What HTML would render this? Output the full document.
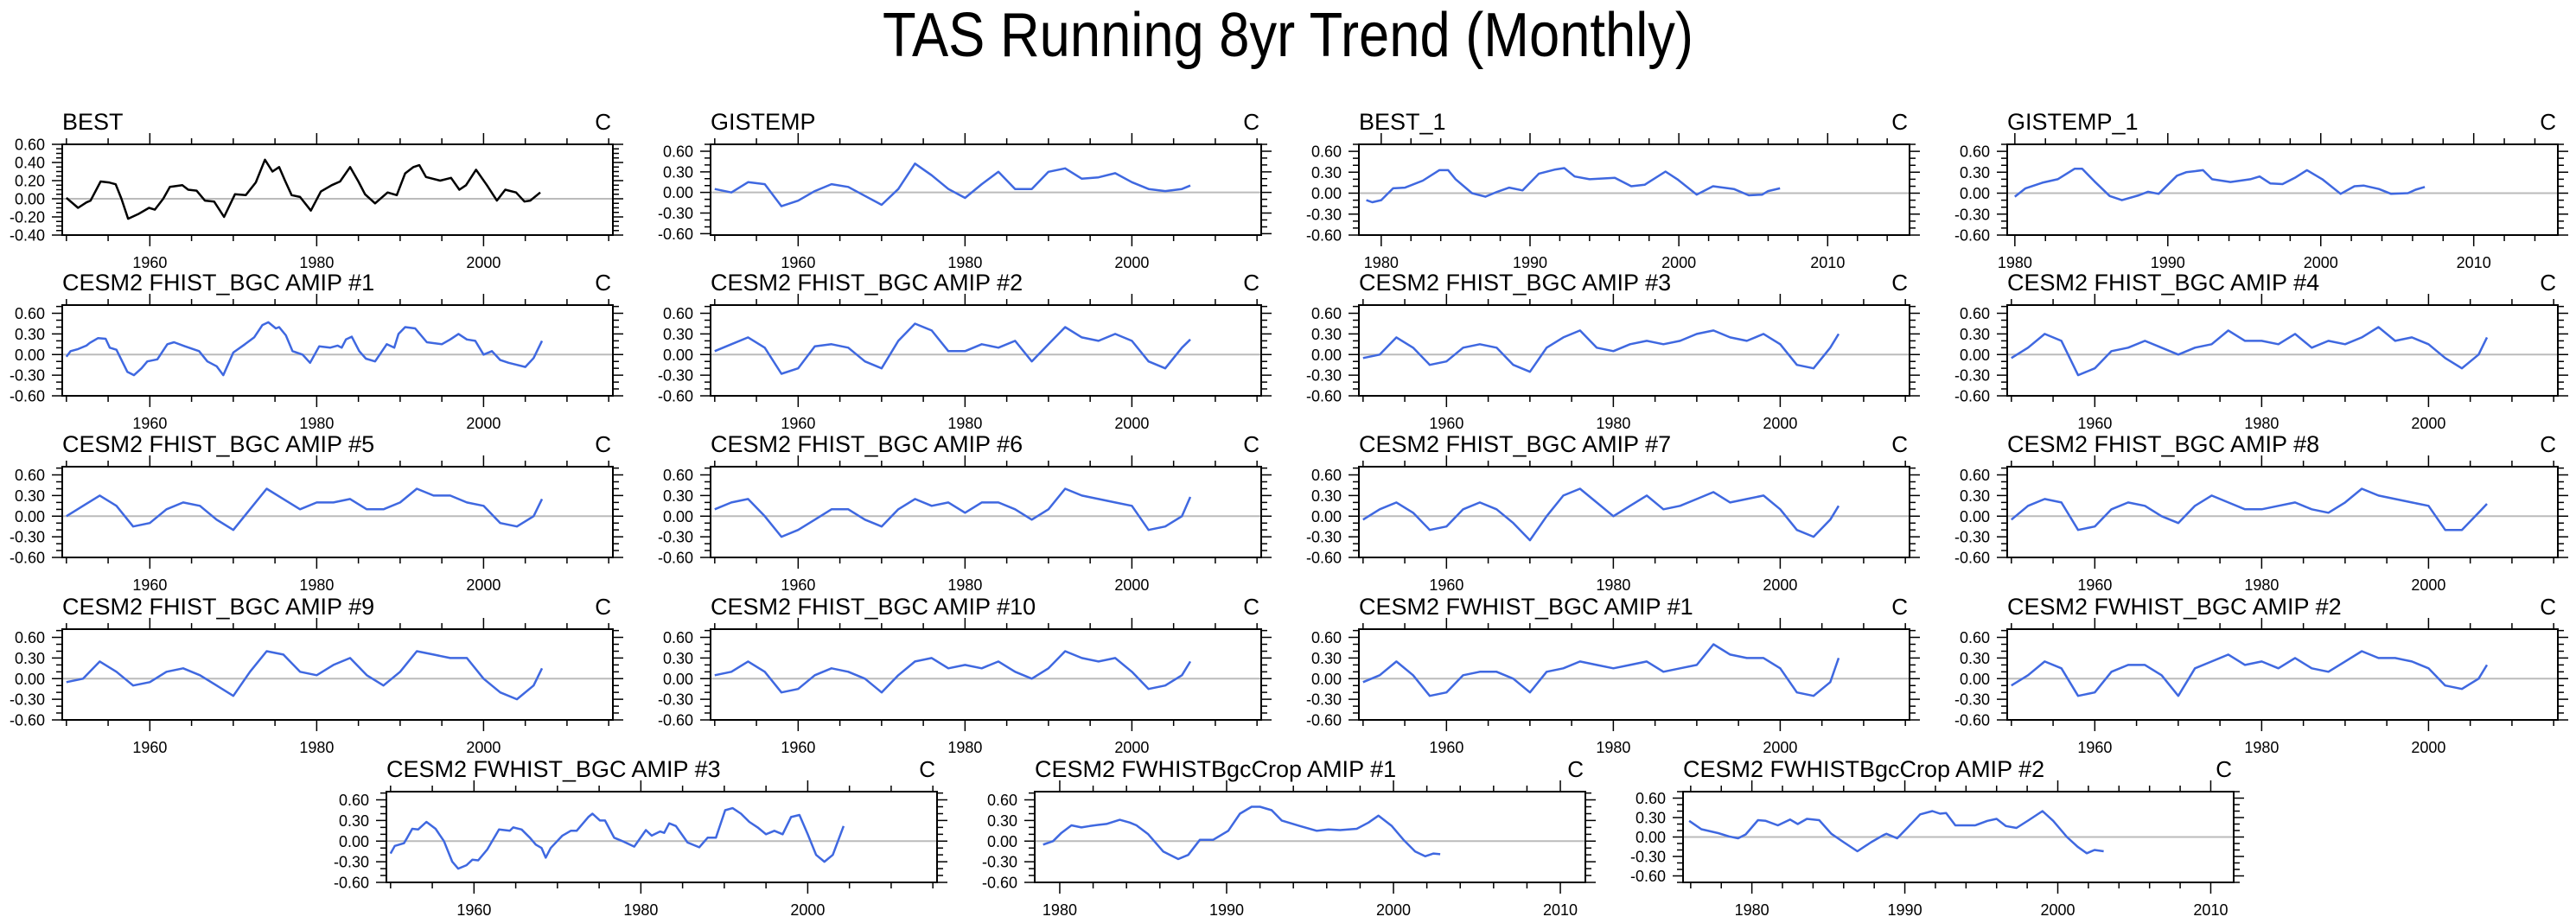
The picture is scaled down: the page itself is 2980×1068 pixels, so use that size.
<!DOCTYPE html>
<html><head><meta charset="utf-8"><style>
html,body{margin:0;padding:0;background:#fff;}
svg{display:block;font-family:"Liberation Sans",sans-serif;}
</style></head><body>
<svg id="fig" width="2980" height="1068" viewBox="0 0 2980 1068">
<text x="1490" y="65" text-anchor="middle" font-size="72" textLength="938" lengthAdjust="spacingAndGlyphs">TAS Running 8yr Trend (Monthly)</text>
</svg>
<script>
const Y2 = [1950,1952,1954,1956,1958,1960,1962,1964,1966,1968,1970,1972,1974,1976,1978,1980,1982,1984,1986,1988,1990,1992,1994,1996,1998,2000,2002,2004,2006,2007];
const bestYears = [1950,1951.4,1952.4,1952.9,1954.1,1955.1,1955.9,1956.6,1957.4,1958.6,1959.9,1960.6,1961.6,1962.4,1963.9,1964.6,1965.6,1966.6,1967.7,1968.9,1970.2,1971.5,1972.7,1973.8,1974.7,1975.5,1976.2,1977,1978,1979.3,1980.5,1981.8,1982.8,1984,1985,1985.8,1987,1988.5,1989.6,1990.6,1991.6,1992.3,1993.1,1994.8,1996.1,1997.1,1997.9,1999.1,2000.4,2001.6,2002.6,2003.9,2004.9,2005.6,2006.8];
const bestVals = [0.01,-0.1,-0.04,-0.02,0.19,0.18,0.16,0.0,-0.22,-0.17,-0.1,-0.12,0.0,0.13,0.15,0.1,0.09,-0.02,-0.03,-0.2,0.05,0.04,0.18,0.43,0.3,0.35,0.2,0.04,0.02,-0.13,0.08,0.15,0.19,0.35,0.19,0.05,-0.05,0.07,0.04,0.28,0.35,0.37,0.24,0.2,0.23,0.1,0.15,0.32,0.15,-0.02,0.1,0.07,-0.03,-0.02,0.07];
const gisVals = [0.05,0.0,0.15,0.12,-0.2,-0.12,0.02,0.12,0.08,-0.05,-0.18,0.05,0.42,0.25,0.05,-0.08,0.12,0.3,0.05,0.05,0.3,0.35,0.2,0.22,0.28,0.15,0.05,0.02,0.05,0.1];
const best1Years = [1979,1979.4,1980,1980.8,1981.6,1982.8,1983.9,1984.5,1985,1986.1,1987,1987.8,1988.6,1989.5,1990.6,1991.7,1992.3,1993,1994,1995.7,1996.8,1997.7,1999.1,1999.9,2001.2,2002.3,2003.7,2004.7,2005.6,2006,2006.8];
const best1Vals = [-0.1,-0.13,-0.1,0.07,0.08,0.18,0.33,0.33,0.2,0.0,-0.05,0.02,0.08,0.04,0.28,0.34,0.36,0.24,0.2,0.22,0.1,0.12,0.31,0.2,-0.02,0.1,0.06,-0.03,-0.02,0.03,0.07];
const gis1Years = [1980,1980.7,1981.8,1982.8,1983.9,1984.4,1985.2,1986.2,1987,1988.1,1988.7,1989.4,1990.6,1991.2,1992.3,1992.9,1994.1,1995.4,1996,1996.7,1997.5,1998.3,1999.1,2000.1,2001.3,2002.2,2002.8,2003.8,2004.6,2005.7,2006.2,2006.8];
const gis1Vals = [-0.05,0.07,0.15,0.2,0.35,0.35,0.17,-0.04,-0.1,-0.03,0.02,-0.01,0.25,0.3,0.33,0.2,0.16,0.2,0.24,0.14,0.13,0.22,0.33,0.2,-0.01,0.1,0.11,0.06,-0.01,0.0,0.05,0.09];
const f1Years = [1950,1950.5,1951.4,1952.4,1952.8,1953.8,1954.7,1955.2,1956,1957.3,1958.1,1959,1959.7,1960.9,1962.1,1962.9,1964.2,1965.9,1966.9,1968,1968.8,1970,1971.4,1972.5,1973.5,1974.2,1975.1,1975.5,1976.3,1977.1,1978.3,1979.2,1980.3,1981.6,1982.5,1983,1983.5,1984.2,1985.1,1985.9,1987,1988.4,1989.3,1989.8,1990.6,1991.8,1993.2,1995,1996,1997,1998,1999,2000,2001,2002,2003,2004,2005,2006,2007];
const f1Vals = [-0.03,0.05,0.08,0.13,0.17,0.24,0.23,0.1,0.07,-0.25,-0.3,-0.2,-0.1,-0.07,0.15,0.18,0.12,0.05,-0.1,-0.17,-0.3,0.03,0.15,0.25,0.43,0.47,0.38,0.4,0.28,0.05,0.0,-0.12,0.12,0.1,0.13,0.1,0.22,0.26,0.05,-0.06,-0.1,0.15,0.1,0.3,0.4,0.38,0.18,0.15,0.22,0.3,0.22,0.2,0.0,0.05,-0.08,-0.12,-0.15,-0.18,-0.05,0.2];
const f2Vals = [0.05,0.15,0.25,0.1,-0.28,-0.2,0.12,0.15,0.1,-0.1,-0.2,0.2,0.45,0.35,0.05,0.05,0.15,0.1,0.2,-0.1,0.15,0.4,0.25,0.2,0.3,0.2,-0.1,-0.2,0.1,0.22];
const f3Vals = [-0.05,0.0,0.25,0.1,-0.15,-0.1,0.1,0.15,0.1,-0.15,-0.25,0.1,0.25,0.35,0.1,0.05,0.15,0.2,0.15,0.2,0.3,0.35,0.25,0.2,0.3,0.15,-0.15,-0.2,0.1,0.3];
const f4Vals = [-0.05,0.1,0.3,0.2,-0.3,-0.2,0.05,0.1,0.2,0.1,0.0,0.1,0.15,0.35,0.2,0.2,0.15,0.3,0.1,0.2,0.15,0.25,0.4,0.2,0.25,0.15,-0.05,-0.2,0.0,0.25];
const f5Vals = [0.0,0.15,0.3,0.15,-0.15,-0.1,0.1,0.2,0.15,-0.05,-0.2,0.1,0.4,0.25,0.1,0.2,0.2,0.25,0.1,0.1,0.2,0.4,0.3,0.3,0.2,0.15,-0.1,-0.15,0.0,0.25];
const f6Vals = [0.1,0.2,0.25,0.0,-0.3,-0.2,-0.05,0.1,0.1,-0.05,-0.15,0.1,0.25,0.15,0.2,0.05,0.2,0.2,0.1,-0.05,0.1,0.4,0.3,0.25,0.2,0.15,-0.2,-0.15,0.0,0.28];
const f7Vals = [-0.05,0.1,0.2,0.05,-0.2,-0.15,0.1,0.2,0.1,-0.1,-0.35,0.0,0.3,0.4,0.2,0.0,0.15,0.3,0.1,0.15,0.25,0.35,0.2,0.25,0.3,0.1,-0.2,-0.3,-0.05,0.15];
const f8Vals = [-0.05,0.15,0.25,0.2,-0.2,-0.15,0.1,0.2,0.15,0.0,-0.1,0.15,0.3,0.2,0.1,0.1,0.15,0.2,0.1,0.05,0.2,0.4,0.3,0.25,0.2,0.15,-0.2,-0.2,0.05,0.18];
const f9Vals = [-0.05,0.0,0.25,0.1,-0.1,-0.05,0.1,0.15,0.05,-0.1,-0.25,0.1,0.4,0.35,0.1,0.05,0.2,0.3,0.05,-0.1,0.1,0.4,0.35,0.3,0.3,0.0,-0.2,-0.3,-0.1,0.15];
const f10Vals = [0.05,0.1,0.25,0.1,-0.2,-0.15,0.05,0.15,0.1,0.0,-0.2,0.05,0.25,0.3,0.15,0.2,0.15,0.25,0.1,0.0,0.15,0.4,0.3,0.25,0.3,0.1,-0.15,-0.1,0.05,0.25];
const w1Vals = [-0.05,0.05,0.25,0.05,-0.25,-0.2,0.05,0.1,0.1,0.0,-0.2,0.1,0.15,0.25,0.2,0.15,0.2,0.25,0.1,0.15,0.2,0.5,0.35,0.3,0.3,0.15,-0.2,-0.25,-0.05,0.3];
const w2Vals = [-0.1,0.05,0.25,0.15,-0.25,-0.2,0.1,0.2,0.2,0.05,-0.25,0.15,0.25,0.35,0.2,0.25,0.15,0.3,0.15,0.1,0.25,0.4,0.3,0.3,0.25,0.15,-0.1,-0.15,0.0,0.2];
const w3Years = [1950,1950.5,1951.6,1952,1952.6,1953.3,1954.3,1955.4,1956.4,1957.4,1958.1,1959.1,1959.8,1960.5,1961.6,1963,1964.3,1964.7,1965.7,1966.7,1967.4,1968.1,1968.6,1969.2,1970.6,1971.6,1972.3,1973.7,1974.2,1975.1,1975.7,1976.8,1977.8,1979.2,1980.6,1981.3,1982.3,1982.8,1983.4,1984.2,1985.6,1987,1988,1989,1990.1,1991,1992,1993,1994,1995,1996,1997,1998,1999,2000,2001,2002,2003,2004.3];
const w3Vals = [-0.18,-0.07,-0.03,0.05,0.18,0.17,0.28,0.18,0.0,-0.3,-0.4,-0.35,-0.27,-0.28,-0.12,0.17,0.15,0.2,0.17,0.05,-0.05,-0.1,-0.24,-0.1,0.08,0.15,0.15,0.35,0.4,0.3,0.3,0.05,0.0,-0.08,0.16,0.08,0.14,0.12,0.26,0.22,-0.02,-0.09,0.05,0.05,0.45,0.48,0.4,0.28,0.2,0.1,0.15,0.1,0.35,0.38,0.1,-0.2,-0.3,-0.2,0.22];
const c1Years = [1979,1979.6,1980.1,1980.7,1981.3,1981.8,1982.4,1982.8,1983.6,1984.2,1984.6,1985.3,1986.2,1987.1,1987.7,1988.4,1989.2,1990.1,1990.8,1991.5,1992,1992.7,1993.3,1994.4,1995.4,1996.1,1996.8,1997.8,1998.5,1999.1,1999.9,2000.6,2001.3,2001.9,2002.4,2002.8];
const c1Vals = [-0.05,0.0,0.12,0.23,0.2,0.22,0.24,0.25,0.31,0.27,0.23,0.1,-0.15,-0.26,-0.2,0.02,0.02,0.15,0.4,0.5,0.5,0.45,0.3,0.22,0.15,0.17,0.16,0.18,0.27,0.37,0.22,0.02,-0.15,-0.22,-0.18,-0.19];
const c2Years = [1975.9,1976.7,1977.8,1978.5,1979.1,1979.6,1980.4,1980.9,1981.7,1982.5,1983,1983.6,1984.4,1985.2,1986,1986.9,1987.8,1988.6,1988.8,1989.5,1990.2,1991,1991.8,1992.3,1992.7,1993.3,1994.6,1995.4,1996,1996.6,1997.3,1998.1,1999,1999.7,2000.6,2001.3,2001.9,2002.4,2003];
const c2Vals = [0.25,0.12,0.06,0.01,-0.02,0.04,0.26,0.25,0.18,0.27,0.2,0.28,0.26,0.05,-0.08,-0.22,-0.08,0.03,0.05,-0.02,0.15,0.35,0.4,0.36,0.37,0.18,0.18,0.25,0.28,0.17,0.14,0.26,0.4,0.25,0.0,-0.15,-0.25,-0.2,-0.22];

const LONG = [1949.5, 2015.5], S1 = [1978.5, 2015.5], S2 = [1979.5, 2015.5], S3 = [1978.5, 2011.5], S4 = [1975.5, 2011.5];
const panels = [
 {t:'BEST', x:72, y:167, xr:LONG, yr:[-0.4,0.6], step:0.2, minor:0.05, xs:bestYears, v:bestVals, c:'#000'},
 {t:'GISTEMP', x:822, y:167, xr:LONG, yr:[-0.62,0.7], step:0.3, minor:0.1, xs:Y2, v:gisVals},
 {t:'BEST_1', x:1572, y:167, xr:S1, yr:[-0.6,0.7], step:0.3, minor:0.1, xs:best1Years, v:best1Vals},
 {t:'GISTEMP_1', x:2322, y:167, xr:S2, yr:[-0.6,0.7], step:0.3, minor:0.1, xs:gis1Years, v:gis1Vals},
 {t:'CESM2 FHIST_BGC AMIP #1', x:72, y:353, xr:LONG, xs:f1Years, v:f1Vals},
 {t:'CESM2 FHIST_BGC AMIP #2', x:822, y:353, xr:LONG, xs:Y2, v:f2Vals},
 {t:'CESM2 FHIST_BGC AMIP #3', x:1572, y:353, xr:LONG, xs:Y2, v:f3Vals},
 {t:'CESM2 FHIST_BGC AMIP #4', x:2322, y:353, xr:LONG, xs:Y2, v:f4Vals},
 {t:'CESM2 FHIST_BGC AMIP #5', x:72, y:540, xr:LONG, xs:Y2, v:f5Vals},
 {t:'CESM2 FHIST_BGC AMIP #6', x:822, y:540, xr:LONG, xs:Y2, v:f6Vals},
 {t:'CESM2 FHIST_BGC AMIP #7', x:1572, y:540, xr:LONG, xs:Y2, v:f7Vals},
 {t:'CESM2 FHIST_BGC AMIP #8', x:2322, y:540, xr:LONG, xs:Y2, v:f8Vals},
 {t:'CESM2 FHIST_BGC AMIP #9', x:72, y:728, xr:LONG, xs:Y2, v:f9Vals},
 {t:'CESM2 FHIST_BGC AMIP #10', x:822, y:728, xr:LONG, xs:Y2, v:f10Vals},
 {t:'CESM2 FWHIST_BGC AMIP #1', x:1572, y:728, xr:LONG, xs:Y2, v:w1Vals},
 {t:'CESM2 FWHIST_BGC AMIP #2', x:2322, y:728, xr:LONG, xs:Y2, v:w2Vals},
 {t:'CESM2 FWHIST_BGC AMIP #3', x:447, y:916, xr:LONG, xs:w3Years, v:w3Vals},
 {t:'CESM2 FWHISTBgcCrop AMIP #1', x:1197, y:916, xr:S3, xs:c1Years, v:c1Vals},
 {t:'CESM2 FWHISTBgcCrop AMIP #2', x:1947, y:916, xr:S4, yr:[-0.7,0.7], xs:c2Years, v:c2Vals}
];
const W = 637, H = 105, NS = 'http://www.w3.org/2000/svg';
const svg = document.getElementById('fig');
function mk(tag, attrs, parent){ const e = document.createElementNS(NS, tag); for (const k in attrs) e.setAttribute(k, attrs[k]); parent.appendChild(e); return e; }
panels.forEach((p, i) => {
  const yr = p.yr || [-0.6, 0.72], step = p.step || 0.3, minor = p.minor || 0.1;
  const g = mk('g', {}, svg);
  
  
  const sx = v => p.x + (v - p.xr[0]) / (p.xr[1] - p.xr[0]) * W;
  const sy = v => p.y + H - (v - yr[0]) / (yr[1] - yr[0]) * H;
  const t = mk('text', {x:p.x, y:p.y - 17, 'font-size':27}, g); t.textContent = p.t;
  
  
  const c = mk('text', {x:p.x + W - 2, y:p.y - 17, 'font-size':26, 'text-anchor':'end'}, g); c.textContent = 'C';
  
  
  const z = mk('line', {x1:p.x, x2:p.x + W, y1:sy(0), y2:sy(0), stroke:'#bbb', 'stroke-width':2}, g);
  
  
  const span = p.xr[1] - p.xr[0];
  const maj = span > 50 ? 20 : 10, mn = span > 50 ? 5 : 2;
  let tk = '';
  for (let yv = Math.ceil(p.xr[0] / mn) * mn; yv <= p.xr[1]; yv += mn) {
    const X = sx(yv), L = (yv % maj === 0) ? 13 : 7;
    tk += `M${X} ${p.y}v${-L}M${X} ${p.y + H}v${L}`;
    if (yv % maj === 0) {
      const lb = mk('text', {x:X, y:p.y + H + 38, 'font-size':18, 'text-anchor':'middle'}, g); lb.textContent = yv;
      
      
    }
  }
  for (let k = Math.ceil(yr[0] / minor - 1e-6); k * minor <= yr[1] + 1e-6; k++) {
    const v = k * minor, Y = sy(v);
    const isMaj = Math.abs(v / step - Math.round(v / step)) < 1e-6;
    const L = isMaj ? 12 : 7;
    tk += `M${p.x} ${Y}h${-L}M${p.x + W} ${Y}h${L}`;
    if (isMaj) {
      const lb = mk('text', {x:p.x - 20, y:Y + 6.5, 'font-size':18, 'text-anchor':'end'}, g); lb.textContent = v.toFixed(2).replace('-0.00', '0.00');
      
      
    }
  }
  const ticks = mk('path', {d:tk, stroke:'#000', 'stroke-width':1.5, fill:'none'}, g);
  
  
  const box = mk('rect', {x:p.x, y:p.y, width:W, height:H, fill:'none', stroke:'#000', 'stroke-width':2}, g);
  
  
  const pts = p.xs.map((yv, j) => `${sx(yv).toFixed(1)},${sy(p.v[j]).toFixed(1)}`).join(' ');
  const ln = mk('polyline', {points:pts, fill:'none', stroke:p.c || '#3f68e0', 'stroke-width':2.5, 'stroke-linejoin':'round'}, g);
  
  
});
</script>
</body></html>
